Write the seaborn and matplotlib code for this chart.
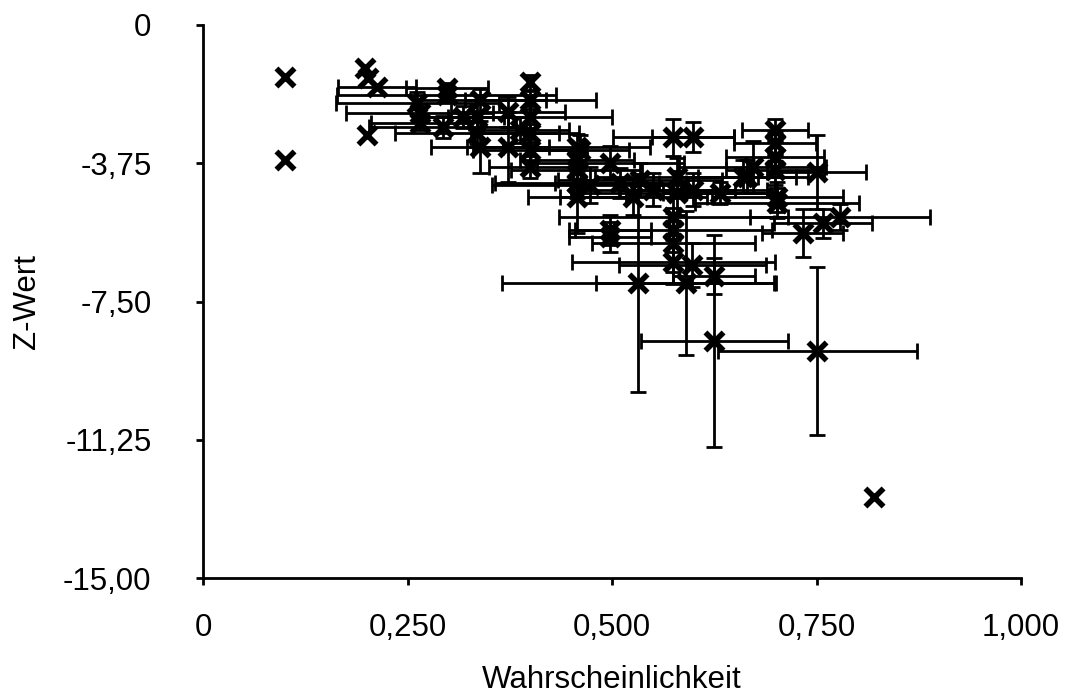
import matplotlib
matplotlib.use("Agg")
import matplotlib.pyplot as plt
import seaborn as sns
import numpy as np
import pandas as pd

# Data (probability vs. Z value, with error bars)
prob = [0.100, 0.100, 0.198, 0.200, 0.820,
        0.202, 0.213, 0.298, 0.298, 0.400, 0.400, 0.400, 0.400, 0.400, 0.400,
        0.262, 0.265, 0.265, 0.293, 0.339, 0.335, 0.335, 0.339, 0.318, 0.373, 0.373,
        0.457, 0.457, 0.461, 0.457, 0.457, 0.457, 0.498, 0.575, 0.599,
        0.510, 0.526, 0.550, 0.579, 0.579, 0.632, 0.665,
        0.498, 0.498, 0.575, 0.575, 0.575, 0.575, 0.598, 0.625, 0.532, 0.590,
        0.625, 0.751, 0.699, 0.699, 0.699, 0.672, 0.660, 0.699, 0.750,
        0.702, 0.702, 0.779, 0.758, 0.733, 0.534, 0.473, 0.599, 0.388]
zval = [-1.41, -3.66, -1.17, -2.98, -12.80,
        -1.44, -1.68, -1.71, -1.90, -1.55, -2.03, -2.49, -2.93, -3.39, -3.85,
        -2.12, -2.39, -2.66, -2.77, -2.03, -2.49, -2.93, -3.31, -2.49, -2.36, -3.31,
        -3.31, -3.66, -3.39, -4.29, -4.66, -3.93, -3.74, -3.04, -3.04,
        -4.29, -4.66, -4.47, -4.12, -4.56, -4.56, -4.12,
        -5.56, -5.75, -5.20, -5.56, -5.91, -6.43, -6.51, -6.81, -7.00, -7.00,
        -8.57, -8.84, -2.85, -3.20, -3.58, -3.85, -4.12, -3.93, -3.99,
        -4.66, -4.83, -5.20, -5.38, -5.64, -4.20, -4.34, -4.47, -2.85]
prob_err = [0, 0, 0, 0, 0,
            0, 0.048, 0.05, 0.134, 0, 0.08, 0.10, 0.06, 0.07, 0.05,
            0.10, 0.09, 0.06, 0.09, 0.08, 0.07, 0.10, 0.06, 0.05, 0.07, 0.05,
            0.09, 0.07, 0.06, 0.10, 0.06, 0.08, 0.09, 0.074, 0.05,
            0.08, 0.09, 0.10, 0.10, 0.12, 0.07, 0.06,
            0.05, 0.05, 0.14, 0.12, 0.10, 0.124, 0.09, 0.05, 0.166, 0.11,
            0.09, 0.122, 0.04, 0.05, 0.06, 0.09, 0.08, 0.06, 0.06,
            0.08, 0.10, 0.11, 0.06, 0.05, 0.10, 0.12, 0.09, 0.06]
z_err = [0, 0, 0, 0, 0,
         0, 0, 0.15, 0.20, 0.20, 0.25, 0.30, 0.25, 0.30, 0.30,
         0.30, 0.25, 0.20, 0.30, 0.30, 0.35, 0.30, 0.70, 0.30, 0.40, 0.95,
         0.35, 0.30, 0.40, 0.40, 0.98, 0.40, 0.45, 0.50, 0.40,
         0.40, 0.50, 0.45, 0.50, 0.60, 0.30, 0.45,
         0.40, 0.40, 0.50, 0.60, 0.80, 0.60, 0.60, 0.50, 2.95, 1.95,
         2.88, 2.27, 0.30, 0.30, 0.40, 0.70, 0.45, 0.40, 1.00,
         0.40, 0.40, 0.35, 0.40, 0.65, 0.45, 0.50, 0.45, 0.35]

x_ticks = [0, 0.25, 0.5, 0.75, 1.0]
x_tick_labels = ["0", "0,250", "0,500", "0,750", "1,000"]
y_ticks = [0, -3.75, -7.5, -11.25, -15.0]
y_tick_labels = ["0", "-3,75", "-7,50", "-11,25", "-15,00"]

df = pd.DataFrame({"Wahrscheinlichkeit": prob, "Z-Wert": zval,
                   "xerr": prob_err, "yerr": z_err})

sns.set_style("white")
plt.rcParams['font.family'] = ['Liberation Sans', 'DejaVu Sans']
plt.rcParams['text.color'] = 'black'
plt.rcParams['axes.labelcolor'] = 'black'

fig = plt.figure(figsize=(10.65, 6.95), dpi=100)
ax = fig.add_axes([203/1065, 1 - 578/695, (1021-203)/1065, (578-25)/695])

eb = df[(df["xerr"] > 0) | (df["yerr"] > 0)]
ax.errorbar(eb["Wahrscheinlichkeit"], eb["Z-Wert"],
            xerr=eb["xerr"].where(eb["xerr"] > 0),
            yerr=eb["yerr"].where(eb["yerr"] > 0),
            fmt="none", ecolor="black", elinewidth=2, capsize=6, capthick=2, zorder=2)

sns.scatterplot(data=df, x="Wahrscheinlichkeit", y="Z-Wert", marker="x",
                color="black", s=170, linewidth=4, ax=ax, zorder=3)

ax.set_xlim(0, 1)
ax.set_ylim(-15, 0)
ax.set_xticks(x_ticks)
ax.set_xticklabels(x_tick_labels)
ax.set_yticks(y_ticks)
ax.set_yticklabels(y_tick_labels)

for side in ["top", "right"]:
    ax.spines[side].set_visible(False)
for side in ["left", "bottom"]:
    ax.spines[side].set_linewidth(2)
    ax.spines[side].set_color("black")
    ax.spines[side].set_capstyle("projecting")

ax.tick_params(axis="both", direction="out", length=5, width=2, color="black",
               labelsize=22.5, labelcolor="black")
ax.tick_params(axis="x", pad=20, bottom=True)
ax.tick_params(axis="y", pad=32, left=True)
ax.set_xlabel("Wahrscheinlichkeit", fontsize=22.5, labelpad=16, color="black")
ax.set_ylabel("Z-Wert", fontsize=22.5, labelpad=15, color="black")
ax.grid(False)

fig.savefig("out.png", dpi=100)
